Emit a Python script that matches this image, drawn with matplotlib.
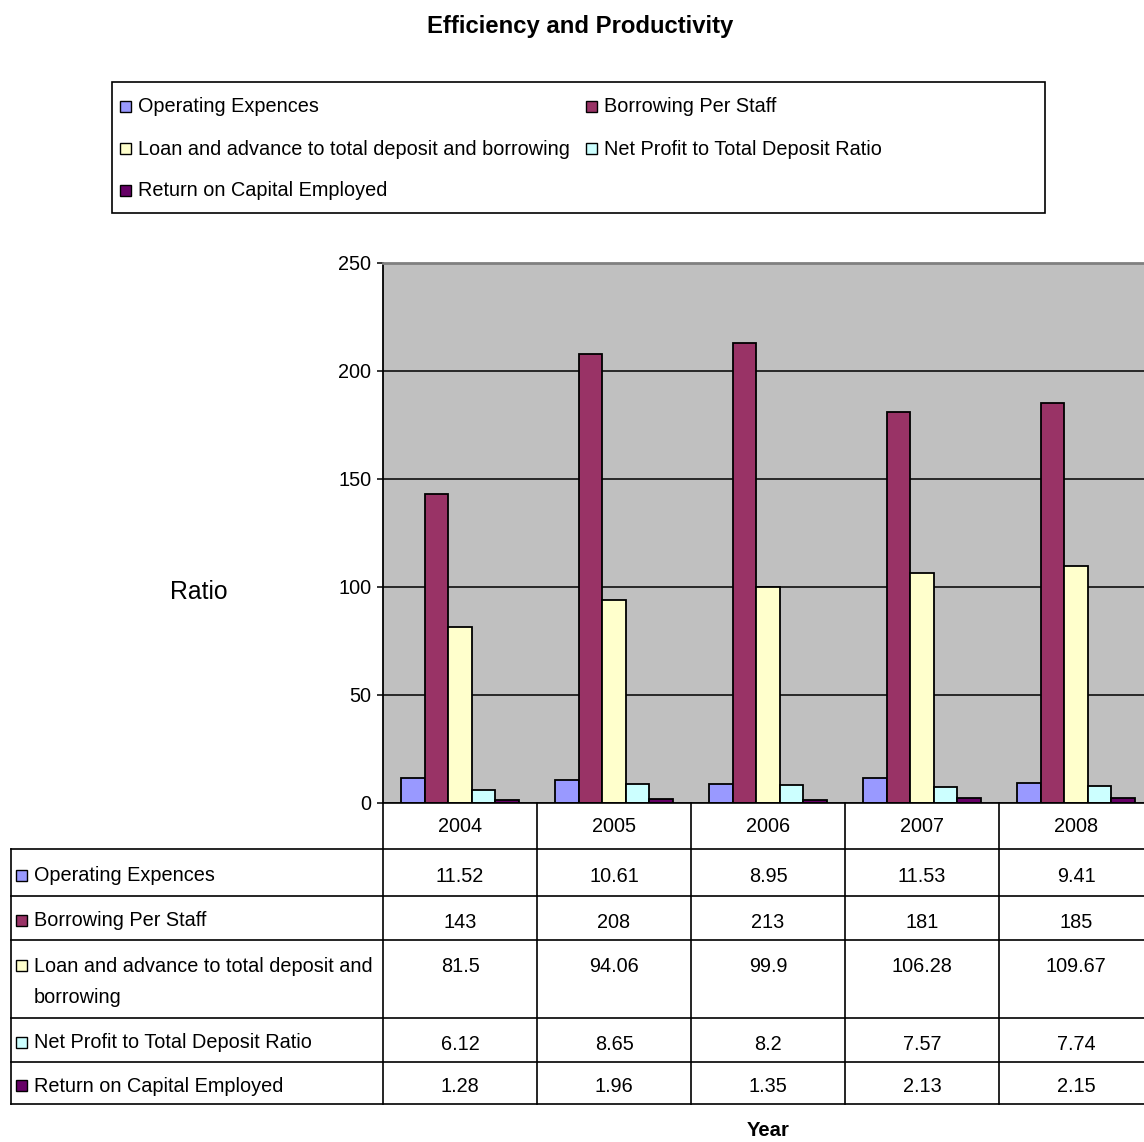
import numpy as np
import matplotlib
matplotlib.use("Agg")
import matplotlib.pyplot as plt
from matplotlib.patches import Rectangle

plt.rcParams['font.family'] = ['Liberation Sans', 'DejaVu Sans']

# data
years = ['2004', '2005', '2006', '2007', '2008']
names = ['Operating Expences',
         'Borrowing Per Staff',
         'Loan and advance to total deposit and borrowing',
         'Net Profit to Total Deposit Ratio',
         'Return on Capital Employed']
row_labels = ['Operating Expences',
              'Borrowing Per Staff',
              'Loan and advance to total deposit and\nborrowing',
              'Net Profit to Total Deposit Ratio',
              'Return on Capital Employed']
operating = [11.52, 10.61, 8.95, 11.53, 9.41]
borrowing = [143, 208, 213, 181, 185]
loan_adv = [81.5, 94.06, 99.9, 106.28, 109.67]
net_profit = [6.12, 8.65, 8.2, 7.57, 7.74]
roce = [1.28, 1.96, 1.35, 2.13, 2.15]
series = [operating, borrowing, loan_adv, net_profit, roce]
colors = ['#9999FF', '#993366', '#FFFFCC', '#CCFFFF', '#660066']

W, H = 1144, 1142
fig = plt.figure(figsize=(W / 100, H / 100), dpi=100)
FS = 14.3

def fx(px):
    return px / W

def fy(py):
    return 1 - py / H

# bar chart
ax = fig.add_axes([fx(383), fy(803), 770 / W, 540 / H])
ax.set_facecolor('#C0C0C0')
x = np.arange(len(years))
bw = 0.153
for i, (vals, c) in enumerate(zip(series, colors)):
    ax.bar(x + (i - 2) * bw, vals, bw, color=c, edgecolor='black', linewidth=1.3, zorder=3)
ax.set_xlim(-0.5, 4.5)
ax.set_ylim(0, 250)
ax.set_yticks([0, 50, 100, 150, 200, 250])
ax.set_xticks([])
ax.tick_params(axis='y', length=4.5, width=1.1, labelsize=FS, pad=4)
ax.yaxis.grid(True, color='black', linewidth=1.1, zorder=1)
ax.set_axisbelow(True)
for s in ['right', 'bottom']:
    ax.spines[s].set_visible(False)
ax.spines['top'].set_color('#808080')
ax.spines['top'].set_linewidth(2)
ax.spines['left'].set_linewidth(1.3)
fig.text(fx(199), fy(592), 'Ratio', fontsize=17.8, ha='center', va='center')

# data table under the bars
cat_w = 154
left_w = 383 - 11
tax = fig.add_axes([fx(11), fy(1104), (1153 - 11) / W, (1104 - 803) / H])
x0 = -0.5 - left_w / cat_w
tax.set_xlim(x0, 4.5)
tax.set_ylim(1104, 803)
tax.axis('off')
lk = dict(color='black', linewidth=1.2, clip_on=False)
rows = [849, 896, 940, 1018, 1062, 1104]
tax.plot([-0.5, 4.5], [803, 803], **lk)
for r in rows:
    tax.plot([x0, 4.5], [r, r], **lk)
for k in range(len(years)):
    tax.plot([k - 0.5, k - 0.5], [803, 1104], **lk)
tax.plot([x0, x0], [849, 1104], **lk)
for k, yr in enumerate(years):
    tax.text(k, 827, yr, fontsize=FS, ha='center', va='center')

for j in range(len(names)):
    top, bot = rows[j], rows[j + 1]
    two_lines = '\n' in row_labels[j]
    ty = top + 26 if two_lines else (top + bot) / 2 + 3
    tax.add_patch(Rectangle((x0 + 5 / cat_w, ty - 6), 11 / cat_w, 11,
                            facecolor=colors[j], edgecolor='black', linewidth=1, clip_on=False))
    if two_lines:
        tax.text(x0 + 23 / cat_w, ty + 16, row_labels[j], fontsize=FS, ha='left', va='center',
                 linespacing=1.86)
    else:
        tax.text(x0 + 23 / cat_w, ty, row_labels[j], fontsize=FS, ha='left', va='center')
    for k in range(len(years)):
        tax.text(k, ty + 1, f'{series[j][k]:g}', fontsize=FS, ha='center', va='center')

fig.text(fx(768), fy(1130), 'Year', fontsize=14.6, fontweight='bold', ha='center', va='center')

# title and legend
fig.text(fx(580), fy(26), 'Efficiency and Productivity', fontsize=17.2, fontweight='bold',
         ha='center', va='center')
fig.patches.append(Rectangle((fx(112), fy(213)), (1045 - 112) / W, (213 - 82) / H,
                             transform=fig.transFigure, facecolor='white', edgecolor='black',
                             linewidth=1.2))
leg_pos = [(120, 106), (586, 106), (120, 148), (586, 148), (120, 190)]
for (lx, ly), name, c in zip(leg_pos, names, colors):
    fig.patches.append(Rectangle((fx(lx), fy(ly + 6)), 11 / W, 11 / H, transform=fig.transFigure,
                                 facecolor=c, edgecolor='black', linewidth=1))
    fig.text(fx(lx + 18), fy(ly + 1), name, fontsize=FS, ha='left', va='center')

fig.savefig('out.png', dpi=100)
